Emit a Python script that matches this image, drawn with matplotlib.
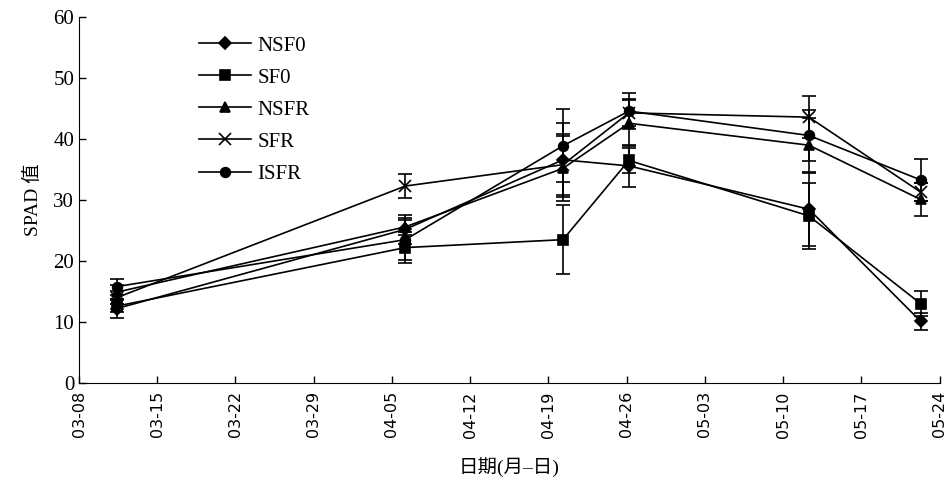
import matplotlib
matplotlib.use('Agg')
import matplotlib.pyplot as plt

# sampling days, counted from 03-08
days = [3.4, 29.2, 43.3, 49.2, 65.3, 75.3]
tick_days = list(range(0, 78, 7))
tick_labels = ['03-08', '03-15', '03-22', '03-29', '04-05', '04-12',
               '04-19', '04-26', '05-03', '05-10', '05-17', '05-24']

nsf0 = [12.2, 25.2, 36.6, 35.6, 28.5, 10.1]
nsf0_err = [1.6, 2.4, 6.1, 3.4, 6.0, 1.4]
sf0 = [12.6, 22.2, 23.5, 36.5, 27.4, 13.0]
sf0_err = [1.0, 2.5, 5.7, 2.0, 5.4, 2.1]
nsfr = [14.9, 25.6, 35.2, 42.6, 39.0, 30.1]
nsfr_err = [1.2, 1.4, 5.3, 3.8, 4.4, 2.7]
sfr = [14.0, 32.3, 35.8, 44.3, 43.6, 31.3]
sfr_err = [1.0, 2.0, 5.0, 2.2, 3.4, 1.5]
isfr = [15.8, 23.5, 38.9, 44.6, 40.6, 33.3]
isfr_err = [1.3, 3.3, 6.0, 3.0, 4.2, 3.4]

serif = ['Liberation Serif', 'Noto Sans CJK SC']

fig = plt.figure(figsize=(9.52, 4.78), dpi=100)
ax = fig.add_axes([0.083, 0.199, 0.904, 0.765])

series = [
    ('NSF0', nsf0, nsf0_err, 'D', 6.5),
    ('SF0', sf0, sf0_err, 's', 6.5),
    ('NSFR', nsfr, nsfr_err, '^', 7.5),
    ('SFR', sfr, sfr_err, 'x', 8.5),
    ('ISFR', isfr, isfr_err, 'o', 7),
]
for name, vals, err, mk, ms in series:
    ax.errorbar(days, vals, yerr=err, color='black', marker=mk, markersize=ms,
                linewidth=1.2, elinewidth=1.2, capsize=5, capthick=1.2,
                markeredgewidth=1.2, label=name)

ax.set_xlim(0, 77)
ax.set_ylim(0, 60)
ax.set_xticks(tick_days)
ax.set_xticklabels(tick_labels, rotation=90, fontsize=11.5, family='DejaVu Sans')
ax.set_yticks(range(0, 61, 10))
for t in ax.get_yticklabels():
    t.set_family(serif)
    t.set_fontsize(15)
ax.tick_params(direction='in', length=5, width=1)
ax.tick_params(axis='x', pad=6)
ax.spines['top'].set_visible(False)
ax.spines['right'].set_visible(False)

ax.set_ylabel('SPAD 值', family=serif, fontsize=14, labelpad=8)
ax.set_xlabel('日期(月–日)', family=serif, fontsize=14, labelpad=14)

# legend entries without error bars
handles, labels = ax.get_legend_handles_labels()
handles = [h[0] for h in handles]
leg = ax.legend(handles, labels, loc='upper left', bbox_to_anchor=(0.118, 1.0),
                frameon=False, prop={'family': serif, 'size': 15},
                labelspacing=0.6, handlelength=2.5, handletextpad=0.3)

fig.savefig('out.png', dpi=100)
